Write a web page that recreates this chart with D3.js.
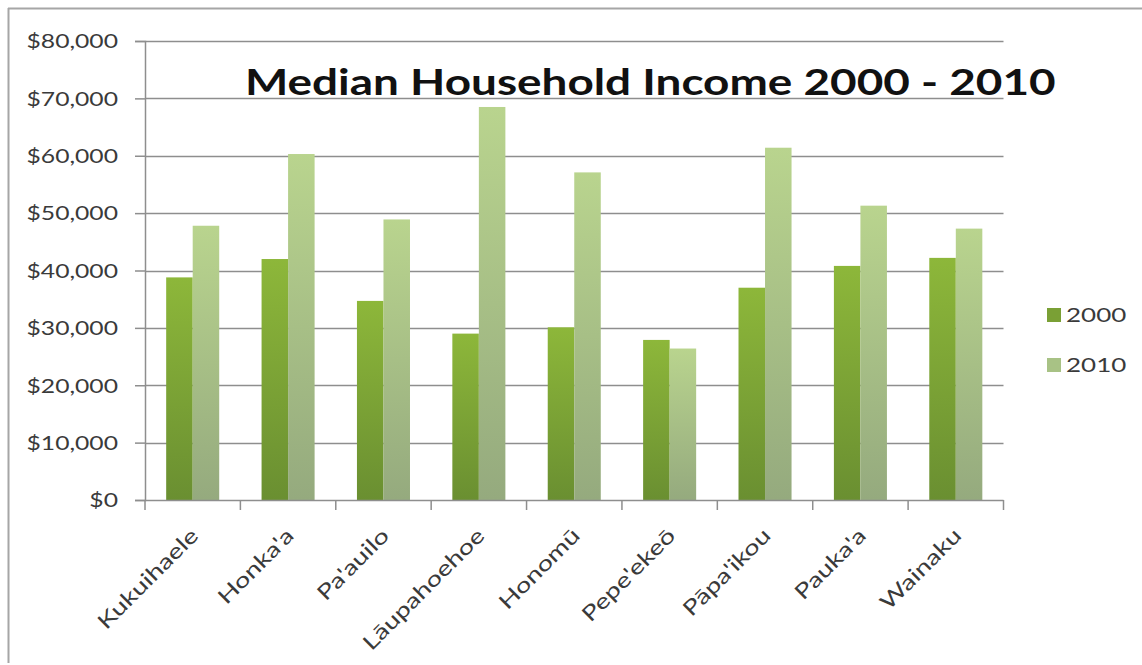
<!DOCTYPE html>
<html>
<head>
<meta charset="utf-8">
<script src="https://cdn.jsdelivr.net/npm/d3@7"></script>
<style>
  html, body { margin: 0; padding: 0; background: #fff; }
  svg { display: block; }
  text { font-family: Lato, "Open Sans", sans-serif; }
</style>
</head>
<body>
<svg id="chart" width="1142" height="665"></svg>
<script>
// Median household income by community, 2000 vs 2010
const categories = ["Kukuihaele", "Honka'a", "Pa'auilo", "Lāupahoehoe", "Honomū", "Pepe'ekeō", "Pāpa'ikou", "Pauka'a", "Wainaku"];
const years = ["2000", "2010"];
const income2000 = [38800, 42000, 34700, 29000, 30100, 27900, 37000, 40800, 42200];
const income2010 = [47800, 60300, 48900, 68500, 57100, 26400, 61400, 51300, 47300];
const yTicks = [0, 10000, 20000, 30000, 40000, 50000, 60000, 70000, 80000];
const titleText = "Median Household Income 2000 - 2010";

const svg = d3.select("#chart");
const W = 1142, H = 665;
const plot = { left: 145, right: 1003.5, top: 41, bottom: 500 };
const stretch = 1.3;        // horizontal widening applied to axis/legend text
const titleStretch = 1.24;

// chart frame (top and left edges)
svg.append("line").attr("x1", 8).attr("x2", W).attr("y1", 8.5).attr("y2", 8.5)
  .attr("stroke", "#a6a6a6").attr("stroke-width", 2);
svg.append("line").attr("x1", 8.5).attr("x2", 8.5).attr("y1", 8).attr("y2", 663)
  .attr("stroke", "#a6a6a6").attr("stroke-width", 2);

const y = d3.scaleLinear().domain([0, 80000]).range([plot.bottom, plot.top]);
const x0 = d3.scaleBand().domain(categories).range([plot.left, plot.right]).padding(0);
const groupW = x0.bandwidth() * 0.556;
const x1 = d3.scaleBand().domain(years).range([0, groupW]).padding(0);

// gradients for the two series
const defs = svg.append("defs");
const grads = [
  { id: "g2000", top: "#8db73a", bottom: "#6a8f31" },
  { id: "g2010", top: "#b9d48e", bottom: "#95aa7e" }
];
grads.forEach(g => {
  const lg = defs.append("linearGradient").attr("id", g.id)
    .attr("x1", 0).attr("y1", 0).attr("x2", 0).attr("y2", 1);
  lg.append("stop").attr("offset", "0%").attr("stop-color", g.top);
  lg.append("stop").attr("offset", "100%").attr("stop-color", g.bottom);
});
const fillFor = { "2000": "url(#g2000)", "2010": "url(#g2010)" };
const legendFill = { "2000": "#7aa035", "2010": "#a8c285" };

// horizontal gridlines
svg.append("g").selectAll("line").data(yTicks.filter(d => d > 0)).join("line")
  .attr("x1", plot.left).attr("x2", plot.right)
  .attr("y1", d => Math.round(y(d)) + 0.5).attr("y2", d => Math.round(y(d)) + 0.5)
  .attr("stroke", "#8e8e8e").attr("stroke-width", 1.5);

// y axis
const yAxis = d3.axisLeft(y).tickValues(yTicks).tickSize(10).tickPadding(0)
  .tickFormat(d => "$" + d3.format(",")(d));
const yg = svg.append("g").attr("transform", `translate(${plot.left},0)`).call(yAxis);
yg.select(".domain").attr("stroke", "#8e8e8e").attr("stroke-width", 1.5);
yg.selectAll(".tick line").attr("stroke", "#8e8e8e").attr("stroke-width", 1.5);
yg.selectAll(".tick text")
  .attr("x", -27 / stretch).attr("dy", "0.36em")
  .attr("transform", `scale(${stretch},1)`)
  .attr("fill", "#3a3a3a").style("font-size", "19px");

// bars
const groups = svg.append("g").selectAll("g").data(categories).join("g")
  .attr("transform", d => `translate(${x0(d) + (x0.bandwidth() - groupW) / 2},0)`);
groups.selectAll("rect").data((d, i) => [
  { year: "2000", value: income2000[i] },
  { year: "2010", value: income2010[i] }
]).join("rect")
  .attr("x", d => x1(d.year))
  .attr("width", x1.bandwidth())
  .attr("y", d => y(d.value))
  .attr("height", d => y(0) - y(d.value))
  .attr("fill", d => fillFor[d.year]);

// x axis with boundary ticks
const xg = svg.append("g");
xg.append("line").attr("x1", plot.left).attr("x2", plot.right)
  .attr("y1", plot.bottom + 0.5).attr("y2", plot.bottom + 0.5)
  .attr("stroke", "#8e8e8e").attr("stroke-width", 1.5);
const bounds = categories.map(c => x0(c)).concat([plot.right]);
xg.selectAll("line.tk").data(bounds).join("line").attr("class", "tk")
  .attr("x1", d => d).attr("x2", d => d)
  .attr("y1", plot.bottom).attr("y2", plot.bottom + 10)
  .attr("stroke", "#8e8e8e").attr("stroke-width", 1.5);

// rotated category labels
xg.selectAll("g.lbl").data(categories).join("g").attr("class", "lbl")
  .attr("transform", d => `translate(${x0(d) + x0.bandwidth() / 2 + 7},${plot.bottom + 37})`)
  .append("text")
  .attr("text-anchor", "end")
  .attr("transform", `rotate(-45) scale(${stretch},1)`)
  .attr("fill", "#3a3a3a").style("font-size", "21px")
  .text(d => d);

// title
svg.append("text").attr("x", 245 / titleStretch).attr("y", 95)
  .attr("transform", `scale(${titleStretch},1)`)
  .style("font-size", "37px").style("font-weight", "bold")
  .attr("fill", "#111").text(titleText);

// legend
const lg = svg.append("g");
years.forEach((yr, i) => {
  const ly = 308 + i * 50;
  lg.append("rect").attr("x", 1047).attr("y", ly).attr("width", 14).attr("height", 14)
    .attr("fill", legendFill[yr]);
  lg.append("text").attr("x", 1066 / stretch).attr("y", ly + 14)
    .attr("transform", `scale(${stretch},1)`)
    .attr("fill", "#3a3a3a").style("font-size", "20px").text(yr);
});
</script>
</body>
</html>
